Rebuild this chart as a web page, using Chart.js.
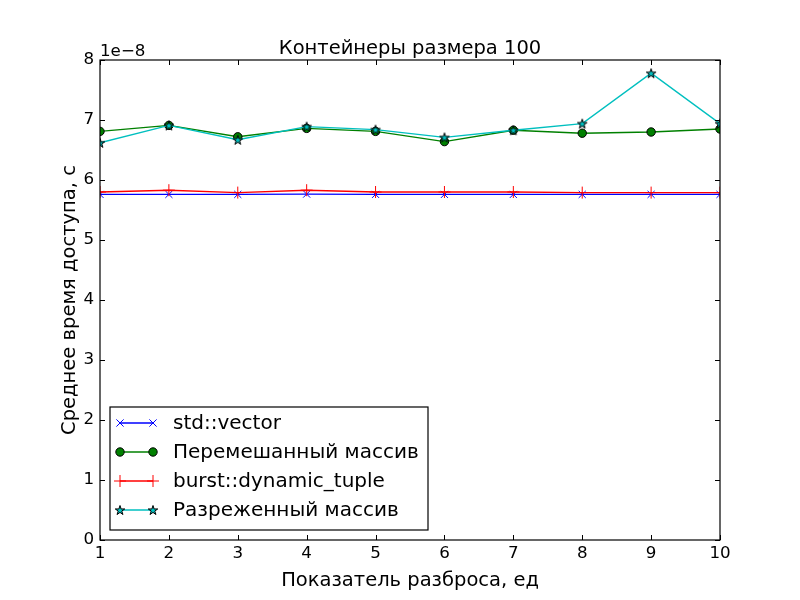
<!DOCTYPE html>
<html>
<head>
<meta charset="utf-8">
<script src="https://cdn.jsdelivr.net/npm/chart.js@4"></script>
<style>
  html, body { margin: 0; padding: 0; background: #fff; }
  #wrap { width: 800px; height: 600px; }
</style>
</head>
<body>
<div id="wrap"><canvas id="myChart" width="800" height="600"></canvas></div>
<script>
// values are in units of 1e-8 s (matplotlib offset text "1e−8")
var spread = [1, 2, 3, 4, 5, 6, 7, 8, 9, 10];
var stdVector = [5.76, 5.76, 5.76, 5.765, 5.76, 5.76, 5.76, 5.76, 5.76, 5.76];
var shuffledArray = [6.81, 6.91, 6.72, 6.86, 6.81, 6.64, 6.83, 6.78, 6.80, 6.85];
var dynamicTuple = [5.80, 5.83, 5.79, 5.83, 5.80, 5.80, 5.80, 5.79, 5.79, 5.79];
var sparseArray = [6.62, 6.91, 6.67, 6.89, 6.84, 6.71, 6.83, 6.94, 7.78, 6.94];
var yTicks = [0, 1, 2, 3, 4, 5, 6, 7, 8];

var seriesNames = ['std::vector', 'Перемешанный массив', 'burst::dynamic_tuple', 'Разреженный массив'];

var FONT = '"DejaVu Sans", sans-serif';

// filled star marker like matplotlib '*'
function makeStar(r) {
    var c = document.createElement('canvas');
    var s = Math.ceil(r * 2 + 4);
    c.width = s; c.height = s;
    var g = c.getContext('2d');
    starPath(g, s / 2, s / 2 + 0.5, r);
    g.fillStyle = '#00bfbf';
    g.fill();
    g.lineWidth = 1;
    g.strokeStyle = '#000';
    g.stroke();
    return c;
}
function starPath(g, cx, cy, r) {
    g.beginPath();
    for (var i = 0; i < 10; i++) {
        var rr = i % 2 === 0 ? r : r * 0.38;
        var a = -Math.PI / 2 + i * Math.PI / 5;
        var px = cx + rr * Math.cos(a), py = cy + rr * Math.sin(a);
        if (i === 0) g.moveTo(px, py); else g.lineTo(px, py);
    }
    g.closePath();
}
var starImg = makeStar(5);

function xy(vals) {
    return spread.map(function (x, i) { return { x: x, y: vals[i] }; });
}

var datasets = [{
    label: seriesNames[0], data: xy(stdVector), order: 4,
    borderColor: '#0000ff', pointStyle: 'crossRot', pointRadius: 5,
    pointBorderColor: '#0000ff', pointBorderWidth: 1
}, {
    label: seriesNames[1], data: xy(shuffledArray), order: 3,
    borderColor: '#008000', pointStyle: 'circle', pointRadius: 4.2,
    pointBackgroundColor: '#008000', pointBorderColor: '#000', pointBorderWidth: 1
}, {
    label: seriesNames[2], data: xy(dynamicTuple), order: 2,
    borderColor: '#ff0000', pointStyle: 'cross', pointRadius: 6,
    pointBorderColor: '#ff0000', pointBorderWidth: 1
}, {
    label: seriesNames[3], data: xy(sparseArray), order: 1,
    borderColor: '#00bfbf', pointStyle: starImg, pointRadius: 5
}];
datasets.forEach(function (d) {
    d.borderWidth = 1.4;
    d.tension = 0;
    d.fill = false;
    d.pointHoverRadius = d.pointRadius;
});

var decor = {
    id: 'decor',
    afterDraw: function (chart) {
        var ctx = chart.ctx, a = chart.chartArea;
        var xs = chart.scales.x, ys = chart.scales.y;
        ctx.save();
        // frame
        ctx.strokeStyle = '#000';
        ctx.lineWidth = 1.2;
        ctx.strokeRect(a.left, a.top, a.right - a.left, a.bottom - a.top);
        // inward ticks on all sides
        ctx.lineWidth = 1;
        ctx.beginPath();
        spread.forEach(function (v) {
            var p = Math.round(xs.getPixelForValue(v)) + 0.5;
            ctx.moveTo(p, a.bottom); ctx.lineTo(p, a.bottom - 5);
            ctx.moveTo(p, a.top); ctx.lineTo(p, a.top + 5);
        });
        yTicks.forEach(function (v) {
            var p = Math.round(ys.getPixelForValue(v)) + 0.5;
            ctx.moveTo(a.left, p); ctx.lineTo(a.left + 5, p);
            ctx.moveTo(a.right, p); ctx.lineTo(a.right - 5, p);
        });
        ctx.stroke();

        // texts
        ctx.fillStyle = '#000';
        ctx.textAlign = 'center';
        ctx.textBaseline = 'alphabetic';
        ctx.font = '19.5px ' + FONT;
        ctx.fillText('Контейнеры размера 100', (a.left + a.right) / 2, 54);
        ctx.fillText('Показатель разброса, ед', (a.left + a.right) / 2, 586);
        ctx.save();
        ctx.translate(75, (a.top + a.bottom) / 2);
        ctx.rotate(-Math.PI / 2);
        ctx.fillText('Среднее время доступа, с', 0, 0);
        ctx.restore();
        ctx.textAlign = 'left';
        ctx.font = '16.7px ' + FONT;
        ctx.fillText('1e\u22128', a.left, 56);

        // legend box (lower left)
        var bx = 110, by = 407, bw = 318, bh = 123;
        ctx.fillStyle = '#fff';
        ctx.fillRect(bx, by, bw, bh);
        ctx.lineWidth = 1.2;
        ctx.strokeStyle = '#000';
        ctx.strokeRect(bx, by, bw, bh);
        var rowY = [423, 452, 481, 510];
        ctx.font = '20px ' + FONT;
        ctx.textBaseline = 'middle';
        chart.data.datasets.forEach(function (d, i) {
            var y = rowY[i];
            var x1 = 120, x2 = 153;
            ctx.strokeStyle = d.borderColor;
            ctx.lineWidth = 1.4;
            ctx.beginPath(); ctx.moveTo(x1, y); ctx.lineTo(x2, y); ctx.stroke();
            [x1, x2].forEach(function (mx) { marker(ctx, i, mx, y); });
            ctx.fillStyle = '#000';
            ctx.fillText(d.label, 173, y + 1);
        });
        ctx.restore();
    }
};

function marker(ctx, i, x, y) {
    ctx.save();
    ctx.lineWidth = 1;
    if (i === 0) {
        ctx.strokeStyle = '#0000ff';
        var r = 3.6;
        ctx.beginPath();
        ctx.moveTo(x - r, y - r); ctx.lineTo(x + r, y + r);
        ctx.moveTo(x - r, y + r); ctx.lineTo(x + r, y - r);
        ctx.stroke();
    } else if (i === 1) {
        ctx.beginPath(); ctx.arc(x, y, 4.2, 0, Math.PI * 2);
        ctx.fillStyle = '#008000'; ctx.fill();
        ctx.strokeStyle = '#000'; ctx.stroke();
    } else if (i === 2) {
        ctx.strokeStyle = '#ff0000';
        ctx.beginPath();
        ctx.moveTo(x - 6, y); ctx.lineTo(x + 6, y);
        ctx.moveTo(x, y - 6); ctx.lineTo(x, y + 6);
        ctx.stroke();
    } else {
        ctx.drawImage(starImg, x - starImg.width / 2, y - starImg.height / 2);
    }
    ctx.restore();
}

var ctx = document.getElementById('myChart');
var myChart = new Chart(ctx, {
    type: 'line',
    data: { datasets: datasets },
    plugins: [decor],
    options: {
        responsive: false,
        animation: false,
        devicePixelRatio: 1,
        layout: { padding: { left: 0, right: 80, top: 60, bottom: 0 } },
        plugins: {
            legend: { display: false },
            title: { display: false },
            tooltip: { enabled: false }
        },
        scales: {
            x: {
                type: 'linear', min: 1, max: 10,
                grid: { display: false, drawTicks: false },
                border: { display: false },
                afterFit: function (s) { s.height = 60; },
                afterBuildTicks: function (s) { s.ticks = spread.map(function (v) { return { value: v }; }); },
                ticks: { color: '#000', padding: 4, maxRotation: 0, autoSkip: false,
                    font: { family: FONT, size: 16.7 } }
            },
            y: {
                type: 'linear', min: 0, max: 8,
                grid: { display: false, drawTicks: false },
                border: { display: false },
                afterFit: function (s) { s.width = 100; },
                afterBuildTicks: function (s) { s.ticks = yTicks.map(function (v) { return { value: v }; }); },
                ticks: { color: '#000', padding: 6,
                    font: { family: FONT, size: 16.7 } }
            }
        }
    }
});
</script>
</body>
</html>
